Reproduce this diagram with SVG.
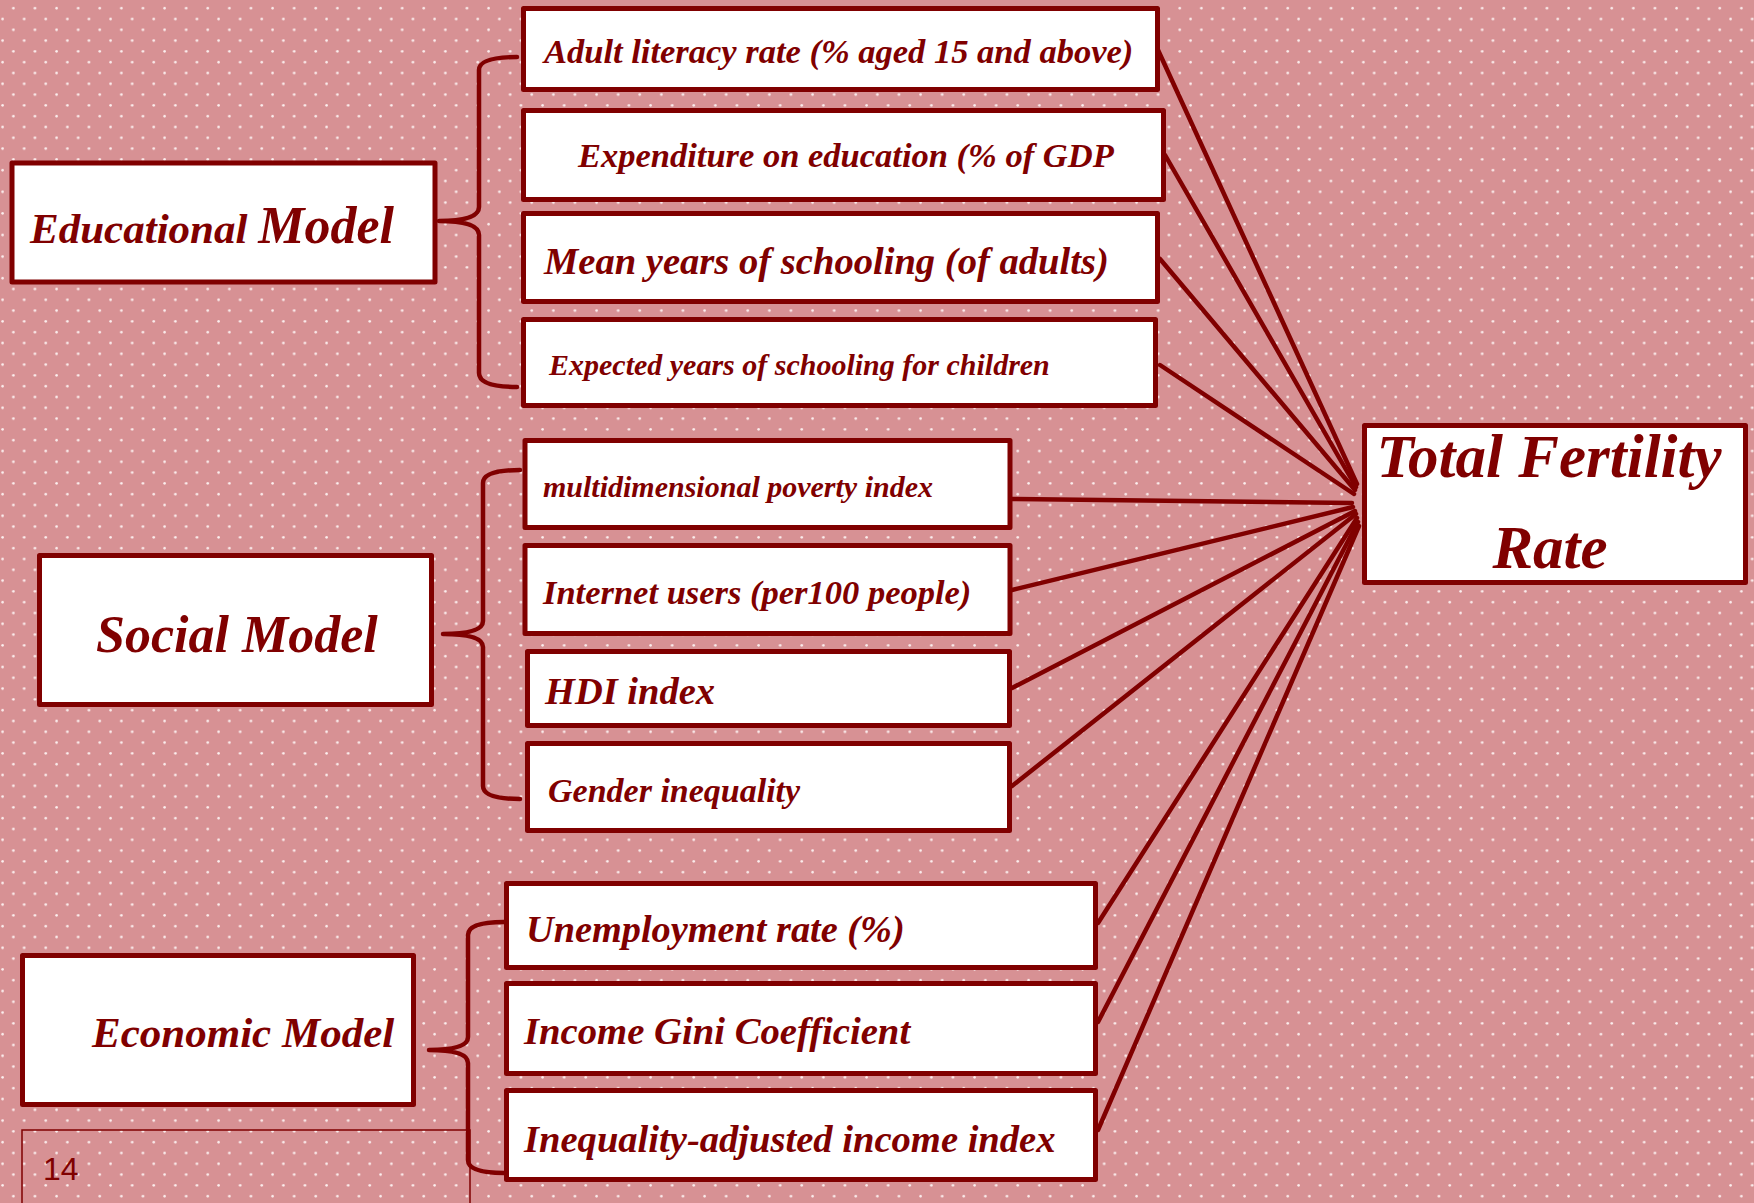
<svg xmlns="http://www.w3.org/2000/svg" width="1754" height="1203" viewBox="0 0 1754 1203">
  <defs>
    <pattern id="dots" x="0" y="0" width="21.6" height="21.6" patternUnits="userSpaceOnUse">
      <rect width="21.6" height="21.6" fill="#D79194"/>
      <circle cx="13.4" cy="8.2" r="1.3" fill="#FCEFEF"/>
      <circle cx="2.6" cy="19" r="1.3" fill="#FCEFEF"/>
    </pattern>
    <style>
      .box { fill: #FFFFFF; stroke: #800000; stroke-width: 5; stroke-linejoin: round; }
      .brace { fill: none; stroke: #800000; stroke-width: 4.5; stroke-linecap: round; stroke-linejoin: round; }
      .link { stroke: #800000; stroke-width: 4.5; stroke-linecap: round; }
      .t { font-family: "Liberation Serif", "Times New Roman", serif; font-weight: bold; font-style: italic; fill: #800000; }
    </style>
  </defs>

  <!-- dotted backdrop -->
  <rect x="0" y="0" width="1754" height="1203" fill="url(#dots)"/>

  <!-- page number frame -->
  <g id="page-number">
    <path d="M22 1210 L22 1130 L470 1130 L470 1210" fill="none" stroke="#800000" stroke-width="1.5"/>
    <text x="43" y="1180" font-family="Liberation Sans, Arial, sans-serif" font-size="32" fill="#800000">14</text>
  </g>

  <!-- connectors: every indicator feeds Total Fertility Rate -->
  <g id="connectors">
    <line class="link" x1="1158" y1="50" x2="1357" y2="484"/>
    <line class="link" x1="1165" y1="155" x2="1356" y2="487"/>
    <line class="link" x1="1160" y1="259" x2="1355" y2="490"/>
    <line class="link" x1="1160" y1="365" x2="1354" y2="494"/>
    <line class="link" x1="1012" y1="499" x2="1352" y2="503"/>
    <line class="link" x1="1012" y1="590" x2="1353" y2="507"/>
    <line class="link" x1="1012" y1="688" x2="1355" y2="511"/>
    <line class="link" x1="1012" y1="786" x2="1356" y2="514"/>
    <line class="link" x1="1098" y1="923" x2="1357" y2="518"/>
    <line class="link" x1="1098" y1="1022" x2="1358" y2="522"/>
    <line class="link" x1="1098" y1="1130" x2="1359" y2="526"/>
  </g>

  <!-- braces grouping indicators under each model -->
  <g id="braces">
    <path class="brace" d="M517 57 Q479 57 479 70 L479 207 Q479 221 439 221 Q479 221 479 235 L479 373 Q479 387 517 387"/>
    <path class="brace" d="M520 470 Q483 470 483 483 L483 621 Q483 634 443 634 Q483 634 483 647 L483 786 Q483 799 520 799"/>
    <path class="brace" d="M504 922 Q468 922 468 935 L468 1037 Q468 1050 429 1050 Q468 1050 468 1063 L468 1160 Q468 1173 504 1173"/>
  </g>

  <!-- educational model -->
  <g id="educational-model">
    <rect class="box" x="12" y="163" width="423" height="119"/>
    <text class="t" x="30" y="243"><tspan font-size="43">Educational </tspan><tspan font-size="52">Model</tspan></text>
  </g>
  <g id="adult-literacy">
    <rect class="box" x="523.5" y="8.5" width="634" height="81"/>
    <text class="t" x="544" y="63" font-size="34.5">Adult literacy rate (% aged 15 and above)</text>
  </g>
  <g id="education-expenditure">
    <rect class="box" x="523.5" y="110.5" width="640" height="89"/>
    <text class="t" x="578" y="167" font-size="34.5">Expenditure on education (% of GDP</text>
  </g>
  <g id="mean-schooling">
    <rect class="box" x="523.5" y="213.5" width="634" height="88"/>
    <text class="t" x="544" y="274" font-size="38.6">Mean years of schooling (of adults)</text>
  </g>
  <g id="expected-schooling">
    <rect class="box" x="523.5" y="319.5" width="632" height="86"/>
    <text class="t" x="549" y="375" font-size="30">Expected years of schooling for children</text>
  </g>

  <!-- social model -->
  <g id="social-model">
    <rect class="box" x="39.5" y="555.5" width="392" height="149"/>
    <text class="t" x="96" y="652" font-size="52">Social Model</text>
  </g>
  <g id="poverty-index">
    <rect class="box" x="525" y="440.5" width="485" height="87"/>
    <text class="t" x="543" y="497" font-size="30">multidimensional poverty index</text>
  </g>
  <g id="internet-users">
    <rect class="box" x="525" y="545.5" width="485" height="88"/>
    <text class="t" x="543" y="604" font-size="34.5">Internet users (per100 people)</text>
  </g>
  <g id="hdi-index">
    <rect class="box" x="527.5" y="651.5" width="482" height="74"/>
    <text class="t" x="545" y="704" font-size="38.5">HDI index</text>
  </g>
  <g id="gender-inequality">
    <rect class="box" x="527.5" y="743.5" width="482" height="87"/>
    <text class="t" x="548" y="802" font-size="34">Gender inequality</text>
  </g>

  <!-- economic model -->
  <g id="economic-model">
    <rect class="box" x="22.5" y="955.5" width="391" height="149"/>
    <text class="t" x="92" y="1047" font-size="43">Economic Model</text>
  </g>
  <g id="unemployment">
    <rect class="box" x="506.5" y="883.5" width="589" height="84"/>
    <text class="t" x="526" y="942" font-size="38.3">Unemployment rate (%)</text>
  </g>
  <g id="gini">
    <rect class="box" x="506.5" y="983.5" width="589" height="90"/>
    <text class="t" x="524" y="1044" font-size="38.7">Income Gini Coefficient</text>
  </g>
  <g id="adjusted-income">
    <rect class="box" x="506.5" y="1090.5" width="589" height="89"/>
    <text class="t" x="524" y="1152" font-size="38.6">Inequality-adjusted income index</text>
  </g>

  <!-- outcome -->
  <g id="total-fertility-rate">
    <rect class="box" x="1364.5" y="425.5" width="381" height="157"/>
    <text class="t" x="1549" y="477" font-size="61" text-anchor="middle">Total Fertility</text>
    <text class="t" x="1550" y="568" font-size="61" text-anchor="middle">Rate</text>
  </g>
</svg>
